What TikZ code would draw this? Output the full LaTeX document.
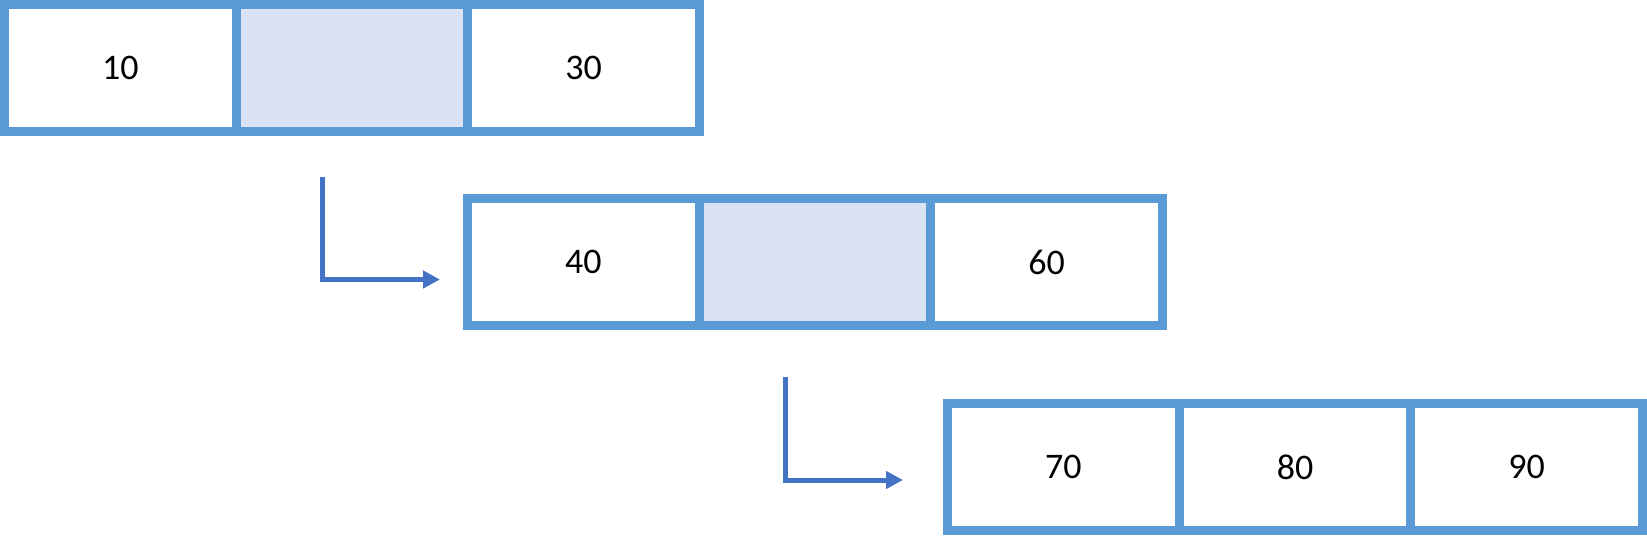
\documentclass[tikz,border=0pt]{standalone}
\usepackage{fontspec}
\setmainfont{Carlito}
\usetikzlibrary{arrows.meta}
\usepackage{xcolor}
\newcommand{\PicW}{1647}
\newcommand{\PicH}{536}
\newcommand{\CellW}{231.67}
\newcommand{\RowH}{136}
\newcommand{\BoxLine}{9}
\newcommand{\XA}{0}
\newcommand{\YA}{0}
\newcommand{\XB}{463}
\newcommand{\YB}{194}
\newcommand{\XC}{943}
\newcommand{\YC}{399}
\definecolor{boxStroke}{HTML}{5B9BD5}
\definecolor{midFill}{HTML}{DAE3F3}
\definecolor{arrowColor}{HTML}{4472C4}
\newcommand{\PlaceRow}[4]{%
  % #1=prefix  #2=left x  #3=top y  #4=list label/fill
  \pgfmathsetmacro{\cy}{\PicH-#3-\RowH/2}%
  \foreach \lbl/\fil [count=\i] in {#4}{%
    \pgfmathsetmacro{\cx}{#2+\BoxLine/2+(\i-0.5)*\CellW}%
    \node[cell, fill=\fil] (#1\i) at (\cx,\cy) {\lbl};
  }%
}

\begin{document}
\begin{tikzpicture}[
  x=0.5pt, y=0.5pt,
  cell/.style = {rectangle, draw=boxStroke, line width=4.5pt,
                 minimum width=115.835pt, minimum height=63.5pt,
                 inner sep=0pt, font=\fontsize{18}{22}\selectfont},
  flow/.style = {arrowColor, line width=2.5pt, line join=miter,
                 -{Triangle[length=8.5pt,width=8.5pt]}},
]
\useasboundingbox (0,0) rectangle (\PicW,\PicH);

% ----------------------------------------------------------------
% Rows of cells
% ----------------------------------------------------------------
\PlaceRow{A}{\XA}{\YA}{10/white,{}/midFill,30/white}
\PlaceRow{B}{\XB}{\YB}{40/white,{}/midFill,60/white}
\PlaceRow{C}{\XC}{\YC}{70/white,80/white,90/white}

% ----------------------------------------------------------------
% Elbow arrows between rows
% ----------------------------------------------------------------
\coordinate (fromA) at (322.5, \PicH-177);
\coordinate (toB)   at (440,   \PicH-279.5);
\draw[flow] (fromA) |- (toB);

\coordinate (fromB) at (785, \PicH-377);
\coordinate (toC)   at (903, \PicH-480);
\draw[flow] (fromB) |- (toC);

\end{tikzpicture}
\end{document}
